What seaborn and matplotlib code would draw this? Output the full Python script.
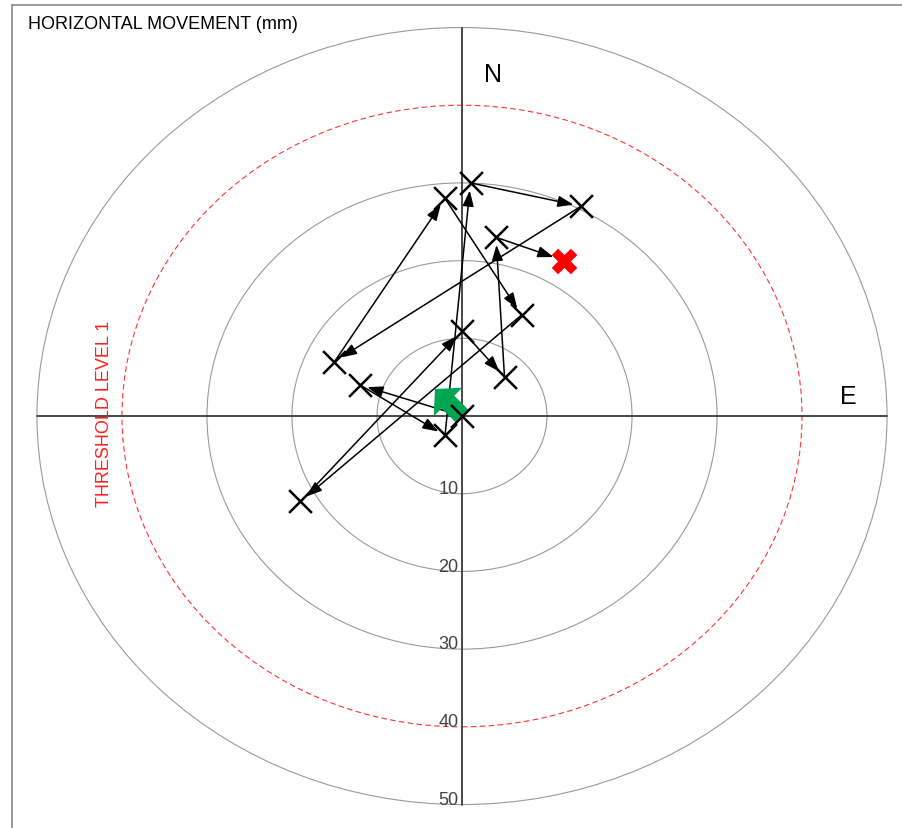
import numpy as np
import pandas as pd
import matplotlib
matplotlib.use("Agg")
import matplotlib.pyplot as plt
from matplotlib.patches import Circle
from matplotlib.path import Path
from matplotlib.markers import MarkerStyle
from matplotlib.transforms import Affine2D
from matplotlib.lines import Line2D
import seaborn as sns

# Survey readings in chronological order: displacement east / north (mm)
reading = list(range(13))
east = [0, -12, -2, 1, 14, -15, -2, 7, -19, 0, 5, 4, 12]
north = [0, 4, -2.5, 30, 27, 7, 28, 13, -11, 11, 5, 23, 20]

ring_radii = [10, 20, 30, 50]
ring_labels = ["10", "20", "30", "40", "50"]
label_radii = [10, 20, 30, 40, 50]
threshold_radius = 40
threshold_label = "THRESHOLD LEVEL 1"
title = "HORIZONTAL MOVEMENT (mm)"

sns.set_style("white")
plt.rcParams["font.family"] = ["Liberation Sans", "DejaVu Sans"]

df = pd.DataFrame({"reading": reading, "east": east, "north": north})

fig = plt.figure(figsize=(9.02, 8.29), dpi=100)
ax = fig.add_axes([0, 0, 1, 1])

# Range rings
for r in ring_radii:
    ax.add_patch(Circle((0, 0), r, fill=False, ec="#9a9a9a", lw=0.8, zorder=1))
ax.add_patch(Circle((0, 0), threshold_radius, fill=False, ec="#ff3333",
                    lw=0.8, ls=(0, (5, 3)), zorder=1))

# Compass axes
ax.plot([-50, 50], [0, 0], color="#3a3a3a", lw=1.3, zorder=2)
ax.plot([0, 0], [-50, 50], color="#3a3a3a", lw=1.3, zorder=2)

for r, lab in zip(label_radii, ring_labels):
    ax.text(-0.4, -r + 0.1, lab, ha="right", va="baseline",
            color="#444444", fontsize=13, zorder=2)

ax.text(3.6, 44.0, "N", ha="center", va="center", fontsize=18, color="black")
ax.text(45.5, 2.6, "E", ha="center", va="center", fontsize=18, color="black")
ax.text(-42.0, 0.45, threshold_label, rotation=90, ha="center", va="center",
        fontsize=13, color="#ff2020")

# Movement path between successive readings
for i in range(len(df) - 1):
    last = i + 1 == len(df) - 1
    ax.annotate("", xy=(df.east[i + 1], df.north[i + 1]),
                xytext=(df.east[i], df.north[i]),
                arrowprops=dict(arrowstyle="-|>,head_length=0.95,head_width=0.34",
                                color="black", lw=1.1, shrinkA=0,
                                shrinkB=8 if last else 5.5,
                                mutation_scale=10),
                zorder=3)

# Start marker: block arrow
verts = [(-8, 0), (8, 0), (8, 18.3), (18, 18.3), (0, 34.7),
         (-18, 18.3), (-8, 18.3), (-8, 0)]
arrow_marker = MarkerStyle(Path(verts, closed=True),
                           transform=Affine2D().rotate_deg(45))
ax.plot(df.east[0], df.north[0], marker=arrow_marker, markersize=56,
        color="#00a651", mec="none", linestyle="none", zorder=4)

# Reading markers
sns.scatterplot(data=df.iloc[:-1], x="east", y="north", marker="x",
                color="black", s=270, linewidth=1.8, ax=ax, zorder=5,
                legend=False)
sns.scatterplot(data=df.iloc[-1:], x="east", y="north", marker="X",
                color="#ff0000", s=340, linewidth=0, ax=ax, zorder=5,
                legend=False)
ax.set_xlim(-54.35, 51.76)
ax.set_ylim(-53.02, 53.67)
ax.axis("off")

# Frame and heading
fig.add_artist(Line2D([11.5 / 902, 1], [1 - 5.5 / 829] * 2,
                      transform=fig.transFigure, color="#888888", lw=1.2))
fig.add_artist(Line2D([11.5 / 902] * 2, [0, 1 - 5.5 / 829],
                      transform=fig.transFigure, color="#888888", lw=1.2))
fig.text(28 / 902, 1 - 29 / 829, title, ha="left", va="baseline",
         fontsize=13, color="black")

fig.savefig("out.png", dpi=100)
